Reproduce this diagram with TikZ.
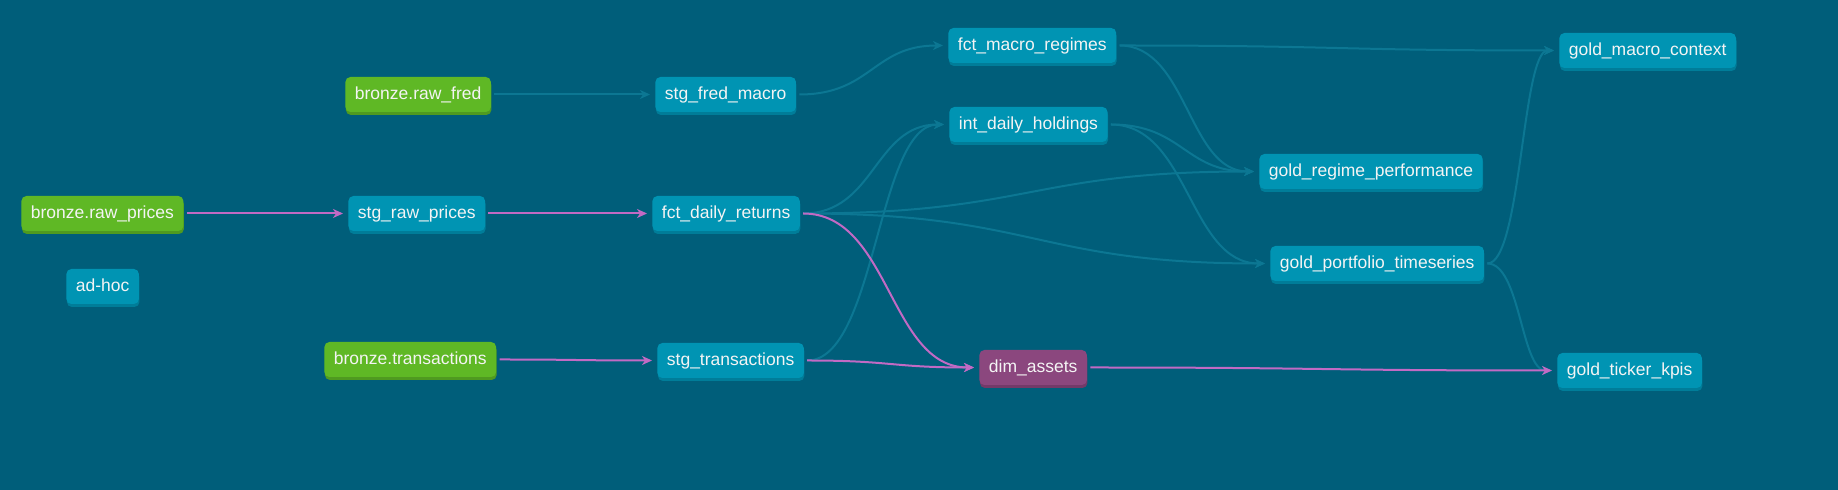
\documentclass[tikz,border=0pt]{standalone}
\usepackage{fontspec}
\setmainfont{Liberation Sans}
\usetikzlibrary{arrows.meta,shadows}
\definecolor{bgc}{HTML}{005E7A}
\definecolor{tealnode}{HTML}{0094B3}
\definecolor{tealshade}{HTML}{007D99}
\definecolor{greennode}{HTML}{5FB825}
\definecolor{greenshade}{HTML}{4F9A20}
\definecolor{purplenode}{HTML}{8B477E}
\definecolor{purpleshade}{HTML}{733A69}
\definecolor{pinkedge}{HTML}{C26AC4}
\definecolor{faintedge}{HTML}{0C7793}
\definecolor{txt}{HTML}{F4F4F4}
\newcommand{\lnk}[4][faintline]{\draw[#1] (#2.east) .. controls +(#4,0) and +(-#4,0) .. (#3.west);}
\begin{document}
\begin{tikzpicture}[x=0.5pt,y=-0.5pt,
  basebox/.style={anchor=west, rounded corners=2.5pt, inner xsep=4.75pt, inner ysep=0pt,
    minimum height=17.5pt, text height=6.4pt, text depth=1.8pt, text=txt,
    font=\fontsize{8.75pt}{10pt}\selectfont},
  modelbox/.style={basebox, fill=tealnode, drop shadow={shadow xshift=0.25pt, shadow yshift=-1.5pt, fill=tealshade, opacity=1}},
  sourcebox/.style={basebox, fill=greennode, drop shadow={shadow xshift=0.25pt, shadow yshift=-1.5pt, fill=greenshade, opacity=1}},
  dimbox/.style={basebox, fill=purplenode, drop shadow={shadow xshift=0.25pt, shadow yshift=-1.5pt, fill=purpleshade, opacity=1}},
  faintline/.style={draw=faintedge, line width=1pt, -{Stealth[length=5pt,width=4.5pt,inset=1.5pt]}, shorten <=1.5pt, shorten >=2.5pt},
  pinkline/.style={draw=pinkedge, line width=1pt, -{Stealth[length=5pt,width=4.5pt,inset=1.5pt]}, shorten <=1.5pt, shorten >=2.5pt}
]
\fill[bgc] (0,0) rectangle (1838,490);
\useasboundingbox (0,0) rectangle (1838,490);

% sources
\node[sourcebox] (fred) at (345,94.5) {bronze.raw\_fred};
\node[sourcebox] (rawp) at (21,213.5) {bronze.raw\_prices};
\node[sourcebox] (btx) at (324,359.5) {bronze.transactions};
\node[modelbox] (adhoc) at (66,286.5) {ad-hoc};

% staging
\node[modelbox] (stgfred) at (655,94.5) {stg\_fred\_macro};
\node[modelbox] (stgrp) at (348,213.5) {stg\_raw\_prices};
\node[modelbox] (fdr) at (652,213.5) {fct\_daily\_returns};
\node[modelbox] (stx) at (657,360.5) {stg\_transactions};

% intermediate
\node[modelbox] (fmr) at (948,45.5) {fct\_macro\_regimes};
\node[modelbox] (idh) at (949,124.5) {int\_daily\_holdings};
\node[dimbox] (dim) at (979,367.5) {dim\_assets};

% gold
\node[modelbox] (gmc) at (1559,50.5) {gold\_macro\_context};
\node[modelbox] (grp) at (1259,171.5) {gold\_regime\_performance};
\node[modelbox] (gpt) at (1270,263.5) {gold\_portfolio\_timeseries};
\node[modelbox] (gtk) at (1557,370.5) {gold\_ticker\_kpis};

% faint edges
\lnk{fred}{stgfred}{75}
\lnk{stgfred}{fmr}{75}
\lnk{fdr}{idh}{75}
\lnk{fdr}{grp}{230}
\lnk{fdr}{gpt}{235}
\lnk{stx}{idh}{72}
\lnk{fmr}{gmc}{220}
\lnk{fmr}{grp}{71}
\lnk{idh}{grp}{75}
\lnk{idh}{gpt}{81}
\lnk{gpt}{gmc}{37}
\lnk{gpt}{gtk}{36}

% highlighted edges
\lnk[pinkline]{rawp}{stgrp}{80}
\lnk[pinkline]{stgrp}{fdr}{80}
\lnk[pinkline]{fdr}{dim}{90}
\lnk[pinkline]{btx}{stx}{80}
\lnk[pinkline]{stx}{dim}{88}
\lnk[pinkline]{dim}{gtk}{235}
\end{tikzpicture}
\end{document}
